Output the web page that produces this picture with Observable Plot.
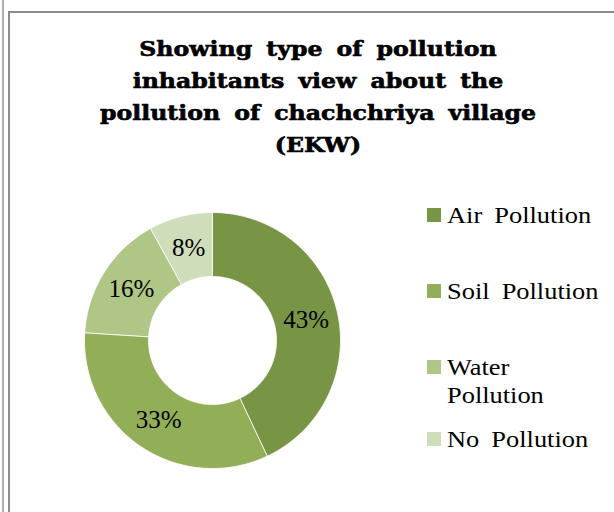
<!DOCTYPE html>
<html>
<head>
<meta charset="utf-8">
<script src="https://cdn.jsdelivr.net/npm/d3@7"></script>
<script src="https://cdn.jsdelivr.net/npm/@observablehq/plot@0.6"></script>
<style>
  html, body { margin: 0; padding: 0; background: #fff; }
  #page { position: relative; width: 614px; height: 512px; overflow: hidden; background: #fff; }
  #outer-line { position: absolute; left: 2px; top: 0; width: 2px; height: 512px; background: #b0b0b0; }
  #box { position: absolute; left: 8px; top: 11px; width: 640px; height: 540px; border-top: 2px solid #8c8c8c; border-left: 2px solid #8c8c8c; }
  #title { position: absolute; left: 60px; width: 516px; top: 33px; text-align: center;
           font-family: "DejaVu Serif", serif; font-weight: bold; font-size: 20px; line-height: 32px;
           word-spacing: 5px; color: #000; -webkit-text-stroke: 0.6px #000;
           transform: scaleX(1.18); transform-origin: 258px 0; }
  #chart { position: absolute; left: 84px; top: 212px; }
  #legend { position: absolute; left: 427px; top: 0; font-family: "Liberation Serif", "Times New Roman", serif;
            font-size: 24px; color: #000; }
  .item { position: absolute; left: 0; white-space: nowrap; }
  .sw { position: absolute; left: 0; width: 14px; height: 14px; }
  .lab { position: absolute; left: 20px; line-height: 28px; word-spacing: 5px;
         transform: scaleX(1.1); transform-origin: 0 0; }
</style>
</head>
<body>
<div id="page">
  <div id="outer-line"></div>
  <div id="box"></div>
  <div id="title">Showing type of pollution<br>inhabitants view about the<br>pollution of chachchriya village<br>(EKW)</div>
  <div id="chart"></div>
  <div id="legend"></div>
</div>
<script>
// Data
const categories = ["Air Pollution", "Soil Pollution", "Water Pollution", "No Pollution"];
const values = [43, 33, 16, 8];
const colors = ["#789545", "#92AF58", "#AFC687", "#CFDEBA"];
const legendLines = [["Air Pollution"], ["Soil Pollution"], ["Water", "Pollution"], ["No Pollution"]];

const R = 128;            // outer radius in px
const innerFrac = 0.5;    // hole size
const total = d3.sum(values);

// Build arc polygons from the values (angles start at 12 o'clock, clockwise)
const rows = [];
const labels = [];
let acc = 0;
categories.forEach((c, i) => {
  const a0 = acc / total * 2 * Math.PI;
  acc += values[i];
  const a1 = acc / total * 2 * Math.PI;
  const n = Math.max(2, Math.ceil((a1 - a0) / (Math.PI / 180)));
  for (let k = 0; k <= n; k++) {
    const a = a0 + (a1 - a0) * k / n;
    rows.push({cat: c, x: Math.sin(a), y: Math.cos(a)});
  }
  for (let k = n; k >= 0; k--) {
    const a = a0 + (a1 - a0) * k / n;
    rows.push({cat: c, x: innerFrac * Math.sin(a), y: innerFrac * Math.cos(a)});
  }
  const am = (a0 + a1) / 2;
  const rl = (1 + innerFrac) / 2;
  labels.push({cat: c, x: rl * Math.sin(am), y: rl * Math.cos(am), text: values[i] + "%"});
});

const chart = Plot.plot({
  width: 2 * R, height: 2 * R,
  margin: 0,
  x: {domain: [-1, 1], axis: null},
  y: {domain: [-1, 1], axis: null},
  color: {domain: categories, range: colors},
  style: {overflow: "visible", background: "transparent"},
  marks: [
    Plot.line(rows, {x: "x", y: "y", z: "cat", fill: "cat", stroke: "#ffffff", strokeWidth: 0.8, curve: "linear-closed"}),
    Plot.text(labels, {x: "x", y: "y", text: "text", fill: "#000", fontSize: 25,
      fontFamily: "'Liberation Serif', 'Times New Roman', serif"})
  ]
});
document.getElementById("chart").appendChild(chart);

// Legend (HTML, right of the donut)
const legendTops = [201, 277, 353, 425];
const legend = document.getElementById("legend");
categories.forEach((c, i) => {
  const it = document.createElement("div");
  it.className = "item";
  it.style.top = legendTops[i] + "px";
  const sw = document.createElement("div");
  sw.className = "sw";
  sw.style.top = "7px";
  sw.style.background = colors[i];
  const lab = document.createElement("div");
  lab.className = "lab";
  lab.style.top = "0px";
  lab.innerHTML = legendLines[i].join("<br>");
  it.appendChild(sw);
  it.appendChild(lab);
  legend.appendChild(it);
});
</script>
</body>
</html>
